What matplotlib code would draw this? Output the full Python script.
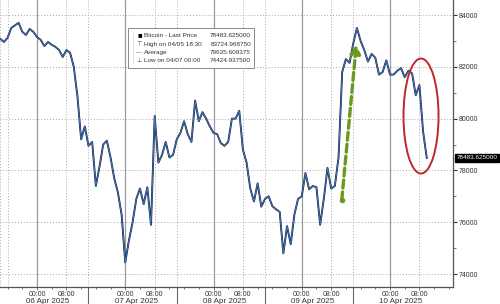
import matplotlib
matplotlib.use("Agg")
import matplotlib.pyplot as plt
import matplotlib.dates as mdates
import matplotlib.ticker as ticker
from matplotlib.patches import Ellipse, Rectangle
import pandas as pd

plt.rcParams["font.family"] = ["Liberation Sans", "DejaVu Sans"]

# Bitcoin last price, hourly from 05 Apr 2025 14:00
PRICE = [
    83080, 82960, 83120, 83500, 83600, 83700, 83350, 83230, 83460, 83350,
    83150, 83040, 82800, 82960, 82850, 82770, 82650, 82380, 82650, 82540,
    82000, 80850, 79200, 79700, 78950, 79100, 77400, 78150, 79000, 79150,
    78500, 77700, 77150, 76300, 74450, 75300, 76000, 76900, 77300, 76700,
    77350, 75900, 80100, 78300, 78600, 79100, 78500, 78600, 79200, 79450,
    79900, 79400, 79100, 80700, 79900, 80250, 80000, 79700, 79450, 79400,
    79050, 78950, 79100, 80000, 80000, 80300, 78800, 78300, 77300, 76800,
    77500, 76600, 76900, 77000, 76620, 76500, 76400, 74800, 75850, 75150,
    76300, 76900, 77000, 77900, 77270, 77400, 77350, 75900, 76900, 78100,
    77300, 77400, 78500, 81800, 82300, 82150, 82900, 83500, 83000, 82650,
    82200, 82500, 82350, 81700, 81800, 82250, 81700, 81700, 81850, 81950,
    81600, 81850, 81750, 80900, 81300, 79500, 78483.625,
]
START = "2025-04-05 14:00"
DAYS = ["2025-04-06", "2025-04-07", "2025-04-08", "2025-04-09", "2025-04-10"]
DAY_LABELS = ["06 Apr 2025", "07 Apr 2025", "08 Apr 2025", "09 Apr 2025", "10 Apr 2025"]
Y_TICKS = [74000, 76000, 78000, 80000, 82000, 84000]
LAST_PRICE = 78483.625
LEGEND_LABELS = ["Bitcoin - Last Price", "High on 04/05 18:30", "Average", "Low on 04/07 00:00"]
LEGEND_VALUES = ["78483.625000", "83724.968750", "79635.609375", "74424.937500"]

GRID = "#a8a8a8"
TXT = "#333333"

times = pd.date_range(START, periods=len(PRICE), freq="h")

fig = plt.figure(figsize=(5, 3.04), dpi=100)
fig.patch.set_facecolor("white")
ax = fig.add_axes([0, 0.056, 0.906, 0.944])
ax.set_facecolor("white")

x0 = pd.Timestamp("2025-04-05 13:56")
x1 = pd.Timestamp("2025-04-10 17:08")
ax.set_xlim(x0, x1)
ax.set_ylim(73500, 84580)

# grid
for y in Y_TICKS:
    ax.axhline(y, color=GRID, lw=0.7, ls=(0, (1, 2)), zorder=1)
ax.axvline(pd.Timestamp("2025-04-05 16:00"), color=GRID, lw=0.7, ls=(0, (1, 2)), zorder=1)
for d in DAYS:
    d = pd.Timestamp(d)
    ax.axvline(d, color="#9a9a9a", lw=0.9, zorder=1)
    for h in (8, -10):
        ax.axvline(d + pd.Timedelta(hours=h), color=GRID, lw=0.7, ls=(0, (1, 2)), zorder=1)

# price line: dark outline + blue
ax.plot(times, PRICE, color="#1b1f2e", lw=1.35, zorder=3)
ax.plot(times, PRICE, color="#3f74c2", lw=0.7, zorder=4)

# y axis on the right
ax.yaxis.tick_right()
ax.set_yticks(Y_TICKS)
ax.yaxis.set_minor_locator(ticker.MultipleLocator(1000))
ax.yaxis.set_major_formatter(ticker.FuncFormatter(lambda v, _: f"{int(v)}"))
ax.tick_params(axis="y", which="major", direction="out", length=3, width=0.8,
               colors=TXT, labelsize=5, pad=1)
ax.tick_params(axis="y", which="minor", direction="out", length=2, width=0.6, colors="#666666")

# x axis ticks
major = []
for d in DAYS:
    major += [pd.Timestamp(d), pd.Timestamp(d) + pd.Timedelta(hours=8)]
ax.set_xticks(major)
ax.set_xticklabels(["00:00", "08:00"] * len(DAYS))
ax.xaxis.set_minor_locator(mdates.HourLocator(byhour=range(0, 24, 4)))
ax.tick_params(axis="x", which="major", direction="out", length=2, width=0.6,
               colors="#666666", labelsize=5, labelcolor=TXT, pad=1)
ax.tick_params(axis="x", which="minor", direction="out", length=1.5, width=0.6, colors="#666666")

for i, d in enumerate(DAYS):
    ax.text(pd.Timestamp(d) + pd.Timedelta(hours=3), -0.049, DAY_LABELS[i],
            transform=ax.get_xaxis_transform(), ha="center", va="center",
            fontsize=5.8, color=TXT)
for d in DAYS[:4]:
    ax.axvline(pd.Timestamp(d) + pd.Timedelta(hours=14), ymin=-0.06, ymax=0,
               color="#666666", lw=0.8, clip_on=False)

for s in ("top", "left"):
    ax.spines[s].set_visible(False)
ax.spines["right"].set_color("#555555")
ax.spines["bottom"].set_color("#555555")
ax.spines["right"].set_linewidth(0.9)
ax.spines["bottom"].set_linewidth(0.9)

# last price tag
ax.annotate(f"{LAST_PRICE:.6f}", xy=(1.008, LAST_PRICE),
            xycoords=("axes fraction", "data"), ha="left", va="center",
            fontsize=4.6, color="white", annotation_clip=False,
            bbox=dict(boxstyle="square,pad=0.22", facecolor="black", edgecolor="black"))

# legend box (pixel-based placement in axes fraction)
W, H = 453.0, 287.0


def px(x, y):
    return x / W, (H - y) / H


bx, by = px(128, 68)
ax.add_patch(Rectangle((bx, by), 126 / W, 40 / H, transform=ax.transAxes,
                       facecolor="white", edgecolor="#8a8a8a", lw=0.7, zorder=6))
icons = ["■", "⊤", "—", "⊥"]
for i, (lab, val) in enumerate(zip(LEGEND_LABELS, LEGEND_VALUES)):
    yy = 36 + i * 8.3
    ax.text(*px(139.5, yy), icons[i], transform=ax.transAxes, ha="center", va="center",
            fontsize=4.5 if i else 5.5, color="black" if i == 0 else "#555555", zorder=7)
    ax.text(*px(144, yy), lab, transform=ax.transAxes, ha="left", va="center",
            fontsize=4.6, color=TXT, zorder=7)
    ax.text(*px(251, yy), val, transform=ax.transAxes, ha="right", va="center",
            fontsize=4.6, color=TXT, zorder=7)
ax.plot([133 / W, 133 / W], [(H - 33) / H, (H - 63) / H], transform=ax.transAxes,
        color="#aaaaaa", lw=0.5, ls=(0, (1, 1)), zorder=7)

# green dashed arrow
arrow_start = (pd.Timestamp("2025-04-09 10:53"), 76860)
arrow_end = (pd.Timestamp("2025-04-09 14:50"), 82850)
ax.annotate("", xy=arrow_end, xytext=arrow_start, zorder=8,
            arrowprops=dict(arrowstyle="-|>,head_length=0.5,head_width=0.3",
                            color="#6a9a1c", lw=2.4, ls=(0, (2.4, 1.2)),
                            shrinkA=0, shrinkB=0))
ax.plot(*arrow_start, "o", color="#6a9a1c", ms=3, zorder=8)

# red ellipse around the drop
ell_center = (mdates.date2num(pd.Timestamp("2025-04-10 08:26")), 80100)
ax.add_patch(Ellipse(ell_center, width=0.397, height=4440, facecolor="none",
                     edgecolor="#c0272d", lw=1.4, zorder=8))

fig.savefig("out.png", dpi=100, facecolor="white")
